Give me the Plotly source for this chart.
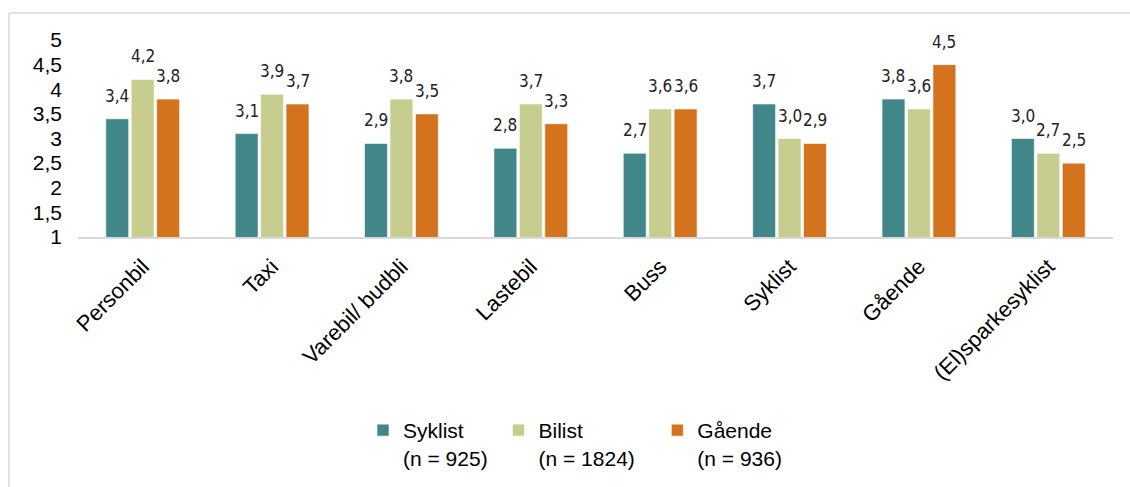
import plotly.graph_objects as go

categories = ["Personbil", "Taxi", "Varebil/ budbli", "Lastebil", "Buss", "Syklist", "Gående", "(El)sparkesyklist"]
series_names = ["Syklist<br>(n = 925)&nbsp;", "Bilist<br>(n = 1824)&nbsp;&nbsp;&nbsp;", "Gående<br>(n = 936)"]
syklist = [3.4, 3.1, 2.9, 2.8, 2.7, 3.7, 3.8, 3.0]
bilist = [4.2, 3.9, 3.8, 3.7, 3.6, 3.0, 3.6, 2.7]
gaende = [3.8, 3.7, 3.5, 3.3, 3.6, 2.9, 4.5, 2.5]
colors = ["#41878A", "#C7CD8F", "#D4731E"]
y_ticks = [1, 1.5, 2, 2.5, 3, 3.5, 4, 4.5, 5]

W, H = 1130, 487
ml, mr, mt, mb = 78, 17, 40, 250
bargap, bargroupgap = 0.41, 0.1

fig = go.Figure()
all_series = [syklist, bilist, gaende]
for name, vals, col in zip(series_names, all_series, colors):
    fig.add_trace(go.Bar(
        x=categories, y=vals, name=name,
        marker=dict(color=col, line=dict(color="rgba(255,255,255,0.6)", width=1)),
        hoverinfo="skip",
    ))

# data labels
plot_w = W - ml - mr
slot = plot_w / len(categories)
bar_slot = slot * (1 - bargap) / 3
for i, vals in enumerate(all_series):
    for c, v in zip(categories, vals):
        fig.add_annotation(
            x=c, y=v, text=f"{v:.1f}".replace(".", ","), showarrow=False,
            xshift=(i - 1) * bar_slot, yanchor="bottom", yshift=11,
            font=dict(family="DejaVu Sans Condensed, Liberation Sans Narrow, Arial Narrow", size=17, color="#222222"),
        )

# light border around chart
def px_x(p):
    return (p - ml) / plot_w
def px_y(p):
    return (H - mb - p) / (H - mt - mb)

fig.add_shape(type="line", xref="paper", yref="paper", x0=px_x(9), x1=px_x(1140), y0=px_y(13), y1=px_y(13),
              line=dict(color="#D9D9D9", width=1.5))
fig.add_shape(type="line", xref="paper", yref="paper", x0=px_x(9), x1=px_x(9), y0=px_y(13), y1=px_y(500),
              line=dict(color="#D9D9D9", width=1.5))

fig.update_layout(
    width=W, height=H,
    margin=dict(l=ml, r=mr, t=mt, b=mb, autoexpand=False),
    barmode="group", bargap=bargap, bargroupgap=bargroupgap,
    separators=", ",
    paper_bgcolor="white", plot_bgcolor="white",
    font=dict(family="Liberation Sans, Arial, sans-serif", size=21, color="#000000"),
    showlegend=True,
    legend=dict(orientation="h", x=px_x(363), xanchor="left", y=px_y(410), yanchor="top",
                valign="top", font=dict(size=21), itemwidth=30, tracegroupgap=0,
                itemclick=False),
    xaxis=dict(showline=True, linecolor="#D9D9D9", linewidth=2, tickangle=-45,
               ticks="", tickfont=dict(size=22), showgrid=False, ticklabelstandoff=6),
    yaxis=dict(range=[1, 5], tickvals=y_ticks, ticktext=[f"{t:g}".replace(".", ",") for t in y_ticks],
               showgrid=False, zeroline=False, showline=False, ticks="",
               ticklabelstandoff=15, tickfont=dict(size=21)),
)

fig.write_html("out.html")
